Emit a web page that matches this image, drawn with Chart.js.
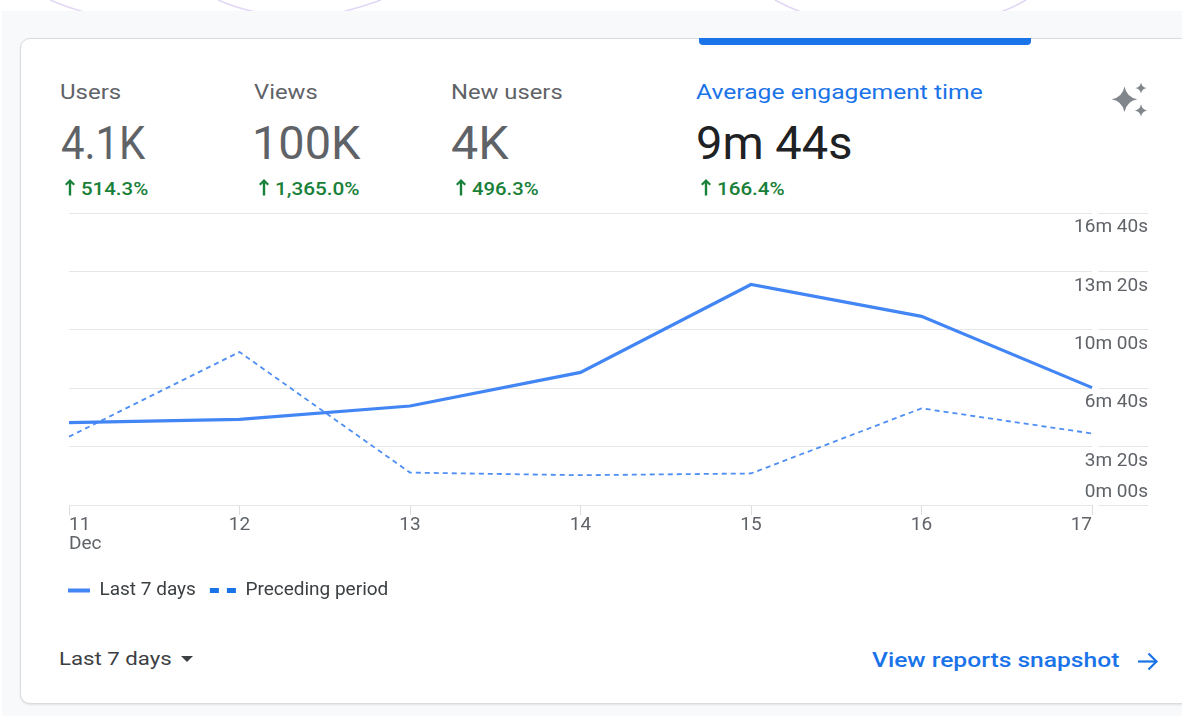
<!DOCTYPE html>
<html>
<head>
<meta charset="utf-8">
<script src="https://cdn.jsdelivr.net/npm/chart.js@4.4.1/dist/chart.umd.min.js"></script>
<style>
  html, body { margin:0; padding:0; width:1182px; height:716px; overflow:hidden; background:#ffffff; font-family: Roboto, "Noto Sans", sans-serif; }
  .abs { position:absolute; white-space:nowrap; display:inline-block; transform-origin: left center; }
  #bg { position:absolute; left:2px; top:11px; width:1180px; height:705px; background:#f8f9fa; }
  #card { position:absolute; left:20px; top:38px; width:1200px; height:666px; background:#fff; border:1px solid #dadce0; border-radius:10px; box-sizing:border-box; box-shadow:0 1px 2px rgba(60,64,67,0.12); }
  #tab { position:absolute; left:699px; top:38px; width:332px; height:7px; background:#1a73e8; border-radius:0 0 4px 4px; }
  .lbl { font-size:21px; line-height:21px; top:82px; color:#5f6368; }
  .lbl.sel { color:#1a73e8; }
  .val { font-size:46px; line-height:46px; top:120px; color:#5f6368; }
  .val.sel { color:#202124; }
  .pct { font-size:19px; line-height:19px; top:179px; color:#188038; font-weight:500; }
  .arr { position:absolute; top:179px; }
  #range { left:59px; top:649px; font-size:19px; line-height:19px; color:#3c4043; }
  #caret { position:absolute; left:181px; top:656px; width:0; height:0; border-left:6px solid transparent; border-right:6px solid transparent; border-top:6.5px solid #3c4043; }
  #snap { left:872px; top:650px; font-size:20px; line-height:20px; color:#1a73e8; font-weight:500; }
  #chartBox { position:absolute; left:40px; top:205px; }
</style>
</head>
<body>
<svg style="position:absolute;left:0;top:0" width="1182" height="12">
  <g fill="none" stroke="#e2d8f6" stroke-width="1.6">
    <path d="M50,0 Q66,7 84,12"/>
    <path d="M218,0 Q236,8 256,12"/>
    <path d="M342,12 Q362,7 381,0"/>
    <path d="M775,0 Q788,7 801,12"/>
    <path d="M1001,12 Q1014,7 1026,0"/>
  </g>
</svg>
<div id="bg"></div>
<div id="card"></div>
<div id="tab"></div>
<div id="metrics"></div>
<svg style="position:absolute;left:1100px;top:75px" width="60" height="50" viewBox="1100 75 60 50">
  <g fill="#80868b" id="spark"></g>
</svg>
<div id="chartBox"><canvas id="c" width="1130" height="405"></canvas></div>
<span id="range" class="abs">Last 7 days</span>
<div id="caret"></div>
<span id="snap" class="abs">View reports snapshot</span>
<svg style="position:absolute;left:1130px;top:648px" width="36" height="28" viewBox="1130 648 36 28">
  <g fill="none" stroke="#1a73e8" stroke-width="2.2" stroke-linecap="butt" stroke-linejoin="miter">
    <path d="M1138,661.5 H1156.5"/>
    <path d="M1148.5,653.5 L1156.5,661.5 L1148.5,669.5"/>
  </g>
</svg>
<script>
// ---------- data ----------
const metricNames   = ['Users', 'Views', 'New users', 'Average engagement time'];
const metricValues  = ['4.1K', '100K', '4K', '9m 44s'];
const metricChanges = ['514.3%', '1,365.0%', '496.3%', '166.4%'];
const selectedMetric = 3;

const days = ['11', '12', '13', '14', '15', '16', '17'];
const monthLabel = 'Dec';
const seriesNames = ['Last 7 days', 'Preceding period'];
// average engagement time in seconds
const last7Days       = [282, 293, 339, 454, 755, 646, 402];
const precedingPeriod = [234, 524, 111, 102, 108, 331, 245];

const yTickValues = [0, 200, 400, 600, 800, 1000];
const yTickLabels = ['0m 00s', '3m 20s', '6m 40s', '10m 00s', '13m 20s', '16m 40s'];

// ---------- layout (positions / widths only) ----------
const colX = [61, 255, 452, 697];
const labelInkW = [59.5, 62, 110, 285];
const valueInkW = [83, 107, 56, 155];
const valueLeftAdj = [-0.5, -3, -1, -1.5];
const pctInkW = [65.6, 83, 65, 66];

function fitText(el, target) {
  el.style.transform = 'none';
  const w = el.getBoundingClientRect().width;
  const s = Math.max(0.88, Math.min(1.3, target / Math.max(1, w - 1.5)));
  el.style.transform = 'scaleX(' + s.toFixed(4) + ')';
}

const m = document.getElementById('metrics');
metricNames.forEach((name, i) => {
  const sel = i === selectedMetric ? ' sel' : '';
  const l = document.createElement('span');
  l.className = 'abs lbl' + sel; l.textContent = name; l.style.left = (colX[i] - 1) + 'px';
  m.appendChild(l);
  const v = document.createElement('span');
  v.className = 'abs val' + sel; v.textContent = metricValues[i]; v.style.left = (colX[i] + valueLeftAdj[i]) + 'px';
  m.appendChild(v);
  const a = document.createElementNS('http://www.w3.org/2000/svg', 'svg');
  a.setAttribute('class', 'arr'); a.setAttribute('width', '10'); a.setAttribute('height', '17');
  a.setAttribute('viewBox', '0 0 10 17');
  a.style.left = (colX[i] + 3.5) + 'px'; a.style.top = '179px';
  a.innerHTML = '<path fill="#188038" d="M5 0 L10 5 L8.5 6.5 L6.2 4.2 V16.5 H3.8 V4.2 L1.5 6.5 L0 5 Z"/>';
  m.appendChild(a);
  const p = document.createElement('span');
  p.className = 'abs pct'; p.textContent = metricChanges[i]; p.style.left = (colX[i] + 19.5) + 'px';
  m.appendChild(p);
  fitText(l, labelInkW[i]);
  fitText(v, valueInkW[i]);
  fitText(p, pctInkW[i]);
});
fitText(document.getElementById('range'), 111);
fitText(document.getElementById('snap'), 245.5);

// sparkle icon
function star(cx, cy, r, k) {
  const q = k * r;
  return `M${cx},${cy - r} Q${cx + q},${cy - q} ${cx + r},${cy} Q${cx + q},${cy + q} ${cx},${cy + r} Q${cx - q},${cy + q} ${cx - r},${cy} Q${cx - q},${cy - q} ${cx},${cy - r} Z`;
}
document.getElementById('spark').innerHTML =
  `<path d="${star(1124.5, 99.3, 12.8, 0.16)}"/><path d="${star(1141, 88, 5.6, 0.16)}"/><path d="${star(1141, 110.5, 6.2, 0.16)}"/>`;

// ---------- chart ----------
const FONT = 'Roboto';
new Chart(document.getElementById('c'), {
  type: 'line',
  data: {
    labels: days.map((d, i) => i === 0 ? [d, monthLabel] : d),
    datasets: [
      { label: seriesNames[0], data: last7Days, borderColor: '#4285f4', borderWidth: 3.2,
        pointRadius: 0, pointHoverRadius: 0, tension: 0, fill: false },
      { label: seriesNames[1], data: precedingPeriod, borderColor: '#4f8ff5', borderWidth: 1.8,
        borderDash: [5, 4], pointRadius: 0, pointHoverRadius: 0, tension: 0, fill: false }
    ]
  },
  options: {
    responsive: false,
    animation: false,
    devicePixelRatio: 1,
    layout: { autoPadding: false, padding: { left: 10, right: 22, top: 8, bottom: 0 } },
    plugins: {
      tooltip: { enabled: false },
      legend: {
        position: 'bottom',
        align: 'start',
        labels: {
          font: { family: FONT, size: 19 },
          color: '#3c4043',
          padding: 14,
          usePointStyle: true,
          pointStyleWidth: 26,
          generateLabels: (chart) => chart.data.datasets.map((ds, i) => ({
            text: ds.label,
            datasetIndex: i,
            hidden: false,
            fillStyle: 'rgba(0,0,0,0)',
            strokeStyle: i === 0 ? '#4285f4' : '#1a73e8',
            lineWidth: i === 0 ? 4 : 5,
            lineDash: i === 0 ? [22, 4] : [9, 8],
            lineDashOffset: i === 0 ? 22 : 0,
            lineCap: 'butt',
            pointStyle: 'line',
            rotation: 0,
            fontColor: '#3c4043'
          }))
        }
      }
    },
    scales: {
      x: {
        type: 'category',
        offset: false,
        border: { display: false },
        grid: { display: true, drawOnChartArea: false, drawTicks: true, tickLength: 10, color: '#dcdcdc', tickColor: '#dcdcdc' },
        ticks: {
          autoSkip: false, maxRotation: 0, minRotation: 0, align: 'inner', padding: 1,
          color: '#5f6368', font: { family: FONT, size: 19, lineHeight: '18.5px' }
        },
        afterFit: (s) => { s.height = 62; s.paddingLeft = 0; s.paddingRight = 0; }
      },
      y: {
        type: 'linear',
        position: 'right',
        min: 0, max: 1000,
        border: { display: false },
        grid: { color: '#e6e6e6', lineWidth: 1, drawTicks: true, tickLength: 56, tickColor: '#e6e6e6',
                tickBorderDash: [50, 6], tickBorderDashOffset: 50 },
        afterBuildTicks: (s) => { s.ticks = yTickValues.map(v => ({ value: v })); },
        ticks: {
          autoSkip: false, crossAlign: 'far', padding: 0,
          color: '#5f6368',
          font: (ctx) => ({ family: FONT, size: 19, lineHeight: (ctx.tick && ctx.tick.value === 0) ? '25px' : '29px' }),
          callback: (v) => {
            const lab = yTickLabels[yTickValues.indexOf(v)];
            return v === 0 ? [lab, ''] : ['', lab];
          }
        },
        afterFit: (s) => {
          s.width = 56; s.paddingTop = 0; s.paddingBottom = 0;
          // let the right-aligned labels extend left past the narrow axis box
          s._computeLabelArea = () => undefined;
        }
      },
      yl: {
        type: 'linear',
        position: 'left',
        display: true,
        border: { display: false },
        grid: { display: false, drawTicks: false },
        ticks: { display: false },
        afterFit: (s) => { s.width = 19; s.paddingTop = 0; s.paddingBottom = 0; }
      }
    }
  }
});
</script>
</body>
</html>
